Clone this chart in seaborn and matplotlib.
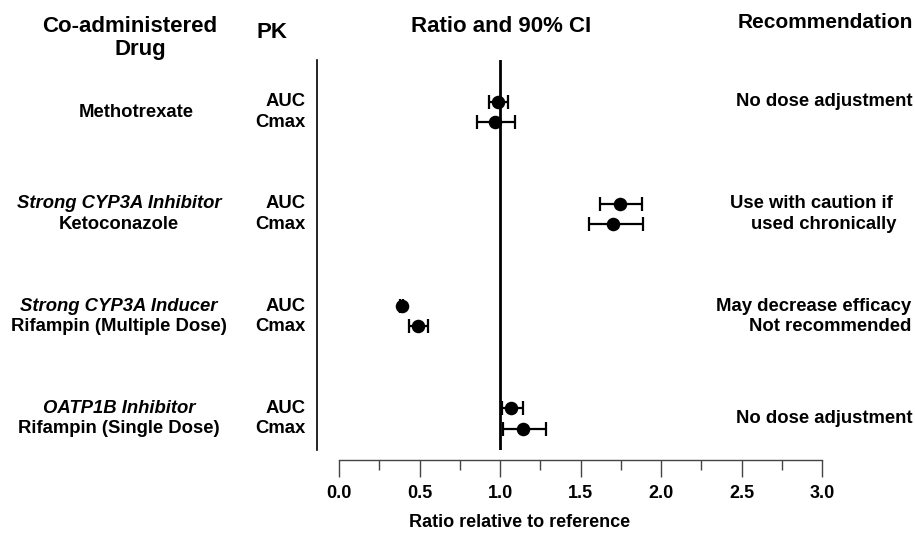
import numpy as np
import pandas as pd
import matplotlib
matplotlib.use("Agg")
import matplotlib.pyplot as plt
import matplotlib.transforms as mtransforms
from matplotlib.ticker import MultipleLocator
import seaborn as sns

# === DATA ===
drug_top = ["", "Strong CYP3A Inhibitor", "Strong CYP3A Inducer", "OATP1B Inhibitor"]
drug_name = ["Methotrexate", "Ketoconazole", "Rifampin (Multiple Dose)", "Rifampin (Single Dose)"]
pk = ["AUC", "Cmax"]
ratio = [0.99, 0.97, 1.745, 1.70, 0.39, 0.49, 1.07, 1.14]
ci_low = [0.93, 0.86, 1.62, 1.55, 0.38, 0.435, 1.01, 1.02]
ci_high = [1.05, 1.09, 1.88, 1.89, 0.40, 0.55, 1.14, 1.285]
recommend = [["No dose adjustment"],
             ["Use with caution if", "used chronically"],
             ["May decrease efficacy", "Not recommended"],
             ["No dose adjustment"]]
xticks = [0.0, 0.5, 1.0, 1.5, 2.0, 2.5, 3.0]

# === TABLE ===
rows = []
for g in range(len(drug_name)):
    for k, p in enumerate(pk):
        i = g * 2 + k
        rows.append({"group": g, "pk": p, "y": g + 0.2 * k,
                     "ratio": ratio[i], "lo": ci_low[i], "hi": ci_high[i]})
df = pd.DataFrame(rows)

sns.set_style("white")
plt.rcParams["font.family"] = ["Liberation Sans", "DejaVu Sans"]
plt.rcParams["font.weight"] = "bold"
plt.rcParams["text.color"] = "black"
plt.rcParams["axes.labelcolor"] = "black"
plt.rcParams["xtick.color"] = "black"

fig = plt.figure(figsize=(9.15, 5.33), dpi=100)
ax = fig.add_axes([317 / 915, 83 / 533, 505 / 915, 390 / 533])

ax.axvline(1.0, color="black", lw=2, zorder=1)
ax.errorbar(df["ratio"], df["y"],
            xerr=[df["ratio"] - df["lo"], df["hi"] - df["ratio"]],
            fmt="none", ecolor="black", elinewidth=1.6, capsize=5, capthick=1.6, zorder=2)
sns.scatterplot(data=df, x="ratio", y="y", ax=ax, color="black", s=95,
                edgecolor="black", linewidth=0, zorder=3, legend=False)

ax.set_xlim(-0.137, 3.0)
ax.set_ylim(3.41, -0.41)
ax.set_yticks([])
ax.set_ylabel("")
ax.set_xticks(xticks)
ax.xaxis.set_minor_locator(MultipleLocator(0.25))
ax.set_xticklabels([f"{v:.1f}" for v in xticks])
ax.tick_params(axis="x", which="major", bottom=True, length=12, width=1,
               color="#444444", pad=6, labelsize=13, labelcolor="black")
ax.tick_params(axis="x", which="minor", bottom=True, length=7, width=1, color="#444444")
for lab in ax.get_xticklabels():
    lab.set_fontweight("bold")
ax.set_xlabel("Ratio relative to reference", fontsize=13, fontweight="bold")
ax.xaxis.set_label_coords(0.402, -0.165)

for s in ["top", "right"]:
    ax.spines[s].set_visible(False)
ax.spines["left"].set_color("black")
ax.spines["left"].set_linewidth(1.2)
ax.spines["bottom"].set_position(("outward", 7.2))
ax.spines["bottom"].set_bounds(0, 3)
ax.spines["bottom"].set_color("#444444")
ax.spines["bottom"].set_linewidth(1)

# === ROW LABELS ===
tr = mtransforms.blended_transform_factory(fig.transFigure, ax.transData)
fs = 13.3
for g in range(len(drug_name)):
    xc = 136 / 915 if g == 0 else 119 / 915
    if drug_top[g]:
        ax.text(xc, g, drug_top[g], transform=tr, ha="center", va="center",
                fontsize=fs, fontweight="bold", style="italic")
        ax.text(xc, g + 0.2, drug_name[g], transform=tr, ha="center", va="center",
                fontsize=fs, fontweight="bold")
    else:
        ax.text(xc, g + 0.1, drug_name[g], transform=tr, ha="center", va="center",
                fontsize=fs, fontweight="bold")
    for k, p in enumerate(pk):
        ax.text(306 / 915, g + 0.2 * k, p, transform=tr, ha="right", va="center",
                fontsize=fs, fontweight="bold")
    rec = recommend[g]
    if len(rec) == 1:
        yy = g if g == 0 else g + 0.1
        ax.text(912 / 915, yy, rec[0], transform=tr, ha="right", va="center",
                fontsize=fs, fontweight="bold")
    else:
        xr = 893 / 915 if g == 1 else 911 / 915
        ax.text(xr, g, rec[0], transform=tr, ha="right", va="center",
                fontsize=fs, fontweight="bold")
        ax.text(xr + (3 / 915 if g == 1 else 0), g + 0.2, rec[1], transform=tr,
                ha="right", va="center", fontsize=fs, fontweight="bold")

# === HEADERS ===
hs = 16
fig.text(130 / 915, 1 - 27 / 533, "Co-administered", ha="center", va="center",
         fontsize=hs, fontweight="bold")
fig.text(140 / 915, 1 - 50 / 533, "Drug", ha="center", va="center",
         fontsize=hs, fontweight="bold")
fig.text(272 / 915, 1 - 33 / 533, "PK", ha="center", va="center",
         fontsize=hs, fontweight="bold")
fig.text(501 / 915, 1 - 27 / 533, "Ratio and 90% CI", ha="center", va="center",
         fontsize=hs, fontweight="bold")
fig.text(913 / 915, 1 - 22 / 533, "Recommendation", ha="right", va="center",
         fontsize=15, fontweight="bold")

fig.savefig("out.png", dpi=100)
